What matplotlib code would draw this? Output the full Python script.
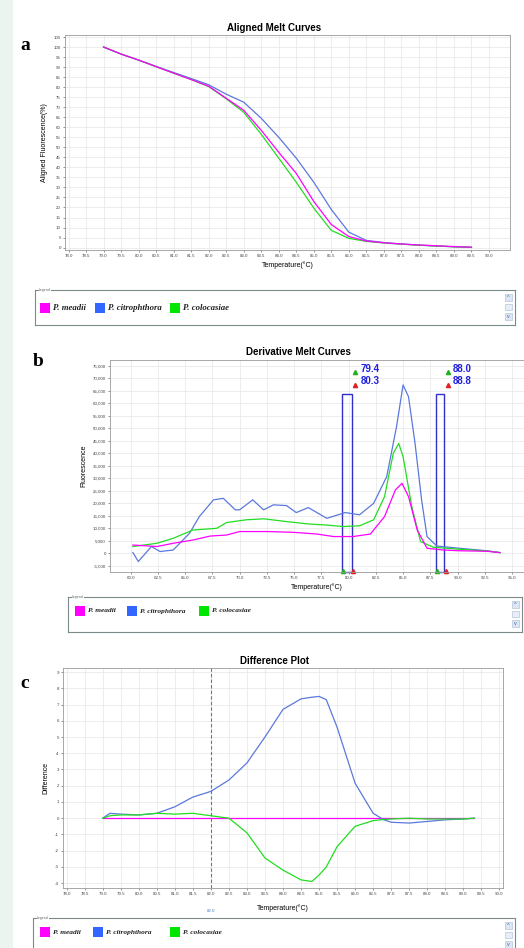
import numpy as np
import matplotlib
matplotlib.use('Agg')
import matplotlib.pyplot as plt
from matplotlib.patches import Rectangle

# ---- panel a: aligned melt curves (%)
temp_a = [79.0, 79.5, 80.0, 80.5, 81.0, 81.5, 82.0, 82.5, 83.0, 83.25, 83.5, 84.0, 84.5,
          85.0, 85.5, 86.0, 86.5, 87.0, 87.5, 88.0, 88.5, 89.0, 89.5]
meadii_a = [100, 96.5, 93.5, 90.2, 87.0, 83.8, 80.5, 74.5, 68.5, 63.5, 58.5, 47.5, 37.0,
            23.0, 11.5, 5.5, 3.3, 2.4, 1.8, 1.3, 0.9, 0.5, 0.2]
citro_a = [100, 96.5, 93.5, 90.4, 87.3, 84.3, 81.2, 76.5, 72.5, 68.5, 64.5, 55.0, 44.6,
           32.6, 19.0, 7.7, 3.6, 2.5, 1.8, 1.2, 0.8, 0.4, 0.1]
coloc_a = [100, 96.5, 93.5, 90.2, 87.0, 83.8, 80.3, 74.2, 67.5, 62.0, 56.5, 44.6, 32.6,
           19.7, 8.6, 4.6, 3.1, 2.3, 1.7, 1.2, 0.8, 0.4, 0.1]
ticks_a_x = np.arange(78.0, 90.01, 0.5)
ticks_a_y = np.arange(0, 106, 5)

# ---- panel b: derivative melt curves
temp_b_citro = [60.2, 60.7, 61.9, 62.7, 63.9, 65.4, 66.3, 67.6, 68.5, 69.6, 70.0, 71.2,
                72.2, 73.1, 74.3, 75.2, 76.3, 78.0, 79.7, 81.0, 82.3, 83.5, 84.4,
                85.0, 85.5, 86.1, 86.7, 87.2, 88.1, 90.2, 92.7, 93.9]
citro_b = [300, -3300, 2700, 700, 1300, 8000, 14700, 21400, 22000, 17400, 17400, 21400,
           17400, 19400, 19100, 16300, 18300, 14000, 16300, 15400, 20000, 30700, 50700,
           67400, 62700, 44000, 21400, 6700, 2900, 2000, 1000, 270]
temp_b_coloc = [60.2, 62.4, 63.9, 65.7, 67.9, 68.8, 70.6, 72.2, 74.3, 76.4, 78.0, 79.5,
                81.0, 82.3, 83.3, 84.1, 84.6, 85.0, 85.8, 86.6, 87.8, 90.2, 92.7, 93.9]
coloc_b = [2700, 4000, 6000, 9300, 10000, 12300, 13400, 13800, 12700, 11700, 11300, 10700,
           11000, 13400, 22700, 40000, 44000, 38700, 18700, 4700, 2400, 1600, 900, 270]
temp_b_meadii = [60.2, 62.4, 63.9, 65.7, 67.3, 68.8, 70.0, 72.5, 74.9, 77.1, 78.6, 80.4,
                 82.0, 83.3, 84.3, 84.9, 85.5, 86.3, 87.2, 88.7, 90.2, 92.7, 93.9]
meadii_b = [3300, 2700, 4000, 5300, 6900, 7300, 8700, 8700, 8400, 7700, 6700, 6700,
            7700, 14700, 25400, 28000, 22700, 9300, 2000, 1300, 1000, 800, 270]
peak_left = [79.4, 88.0]
peak_right = [80.3, 88.8]
ticks_b_x = np.arange(60.0, 95.01, 2.5)
ticks_b_y = np.arange(-5000, 75001, 5000)

# ---- panel c: difference plot
temp_c = [79.0, 79.2, 79.5, 80.0, 80.5, 81.0, 81.5, 82.0, 82.5, 83.0, 83.5, 84.0,
          84.5, 84.8, 85.0, 85.2, 85.5, 86.0, 86.5, 86.8, 87.0, 87.5, 88.0, 88.5,
          89.0, 89.3]
citro_c = [0, 0.3, 0.25, 0.2, 0.3, 0.7, 1.3, 1.65, 2.35, 3.4, 5.0, 6.7,
           7.35, 7.45, 7.5, 7.3, 5.6, 2.15, 0.3, -0.1, -0.25, -0.3, -0.2, -0.1,
           -0.05, 0]
coloc_c = [0, 0.15, 0.2, 0.2, 0.3, 0.25, 0.3, 0.15, 0.0, -0.9, -2.45, -3.2,
           -3.8, -3.9, -3.5, -3.0, -1.75, -0.5, -0.15, -0.08, -0.05, 0, -0.05, -0.05,
           -0.05, 0]
meadii_c = [0] * len(temp_c)
cursor_c = 82.0
ticks_c_x = np.arange(78.0, 90.01, 0.5)
ticks_c_y = np.arange(-4, 10, 1)

species = ['P. meadii', 'P. citrophthora', 'P. colocasiae']
swatch = ['#ff00ff', '#3366ff', '#00e600']
line_col = ['#ff00ff', '#5b78dd', '#22dd22']

W, H = 524, 948
fig = plt.figure(figsize=(W / 100, H / 100), dpi=100)
fig.patch.set_facecolor('white')
plt.rcParams['font.family'] = ['Liberation Sans', 'DejaVu Sans']

# faint page tint on the left margin
fig.add_artist(Rectangle((0, 0), 13 / W, 1, transform=fig.transFigure,
                         facecolor='#ebf4ee', edgecolor='none', zorder=0))


def px_axes(l, t, r, b):
    return fig.add_axes([l / W, 1 - b / H, (r - l) / W, (b - t) / H])


def style(ax, xt, yt, xfmt, yfmt):
    ax.set_xticks(xt)
    ax.set_yticks(yt)
    ax.set_xticklabels([xfmt(v) for v in xt])
    ax.set_yticklabels([yfmt(v) for v in yt])
    ax.tick_params(labelsize=3.2, length=1.5, width=0.4, colors='#444444', pad=1.5)
    ax.grid(True, color='#e6e6e6', linewidth=0.5)
    ax.set_axisbelow(True)
    for sp in ax.spines.values():
        sp.set_color('#9a9a9a')
        sp.set_linewidth(0.6)


def legend_box(l, t, r, b, offsets, fs, row):
    lax = px_axes(l, t, r, b)
    lax.set_xlim(0, r - l)
    lax.set_ylim(b - t, 0)
    lax.set_xticks([])
    lax.set_yticks([])
    for sp in lax.spines.values():
        sp.set_color('#7a8a8a')
        sp.set_linewidth(0.8)
    lax.text(4, 0, 'Legend', fontsize=2.5, color='#666666', va='center',
             bbox=dict(facecolor='white', edgecolor='none', pad=0.3))
    for name, c, x in zip(species, swatch, offsets):
        lax.add_patch(Rectangle((x, row - 5), 10, 10, facecolor=c, edgecolor='none'))
        lax.text(x + 13, row, name, fontsize=fs, style='italic', weight='bold',
                 family=['Liberation Serif'], va='center', color='#222222')
    # scroll bar
    sx = r - l - 10
    lax.add_patch(Rectangle((sx, 4), 7, 7, facecolor='#dde6f4', edgecolor='#a8b8d0', lw=0.4))
    lax.text(sx + 3.5, 7.5, '^', fontsize=4, ha='center', va='center', color='#4060a0')
    lax.add_patch(Rectangle((sx, 14), 7, 6, facecolor='#e8eef8', edgecolor='#a8b8d0', lw=0.4))
    lax.add_patch(Rectangle((sx, 23), 7, 7, facecolor='#dde6f4', edgecolor='#a8b8d0', lw=0.4))
    lax.text(sx + 3.5, 26.5, 'v', fontsize=4, ha='center', va='center', color='#4060a0')
    return lax


# ---------------- a
ax = px_axes(65, 35, 510, 250)
ax.plot(temp_a, citro_a, color=line_col[1], lw=0.9)
ax.plot(temp_a, coloc_a, color=line_col[2], lw=0.9)
ax.plot(temp_a, meadii_a, color=line_col[0], lw=0.9)
ax.set_xlim(77.9, 90.6)
ax.set_ylim(-1.2, 106)
style(ax, ticks_a_x, ticks_a_y, lambda v: f'{v:.1f}', lambda v: f'{v:.0f}')
ax.set_xlabel('Temperature(°C)', fontsize=5, labelpad=2)
ax.set_ylabel('Aligned Fluorescence(%)', fontsize=5, labelpad=4)
fig.text(274 / W, 1 - 28 / H, 'Aligned Melt Curves', fontsize=7, weight='bold',
         ha='center', va='center')
fig.text(25 / W, 1 - 45 / H, 'a', fontsize=14, weight='bold', family=['Liberation Serif'],
         ha='center', va='center')
legend_box(35, 290, 515, 325, [5, 60, 135], 6.3, 18)

# ---------------- b
ax = px_axes(110, 360, 524, 572)
ax.plot(temp_b_citro, citro_b, color=line_col[1], lw=0.9)
ax.plot(temp_b_coloc, coloc_b, color=line_col[2], lw=0.9)
ax.plot(temp_b_meadii, meadii_b, color=line_col[0], lw=0.9)
ax.set_xlim(58.1, 96.1)
ax.set_ylim(-7500, 77400)
style(ax, ticks_b_x, ticks_b_y, lambda v: f'{v:.1f}', lambda v: f'{v:,.0f}')
ax.set_xlabel('Temperature(°C)', fontsize=5, labelpad=2)
ax.set_ylabel('Fluorescence', fontsize=5, labelpad=4)
for lo, hi in zip(peak_left, peak_right):
    ax.add_patch(Rectangle((lo, -7500), hi - lo, 63700 + 7500, facecolor='none',
                           edgecolor='#3030c8', lw=1.0, clip_on=False))
    ax.plot([hi + 0.3], [72500], marker='^', ms=3, color='#20b020')
    ax.plot([hi + 0.3], [67500], marker='^', ms=3, color='#e02020')
    ax.text(hi + 0.8, 73600, f'{lo:.1f}', fontsize=7, weight='bold', color='#2020e0',
            va='center')
    ax.text(hi + 0.8, 69000, f'{hi:.1f}', fontsize=7, weight='bold', color='#2020e0',
            va='center')
    ax.plot([lo + 0.1], [-7000], marker='^', ms=3, color='#20b020', clip_on=False)
    ax.plot([hi + 0.1], [-7000], marker='^', ms=3, color='#e02020', clip_on=False)
fig.text(298 / W, 1 - 352 / H, 'Derivative Melt Curves', fontsize=7, weight='bold',
         ha='center', va='center')
fig.text(38 / W, 1 - 362 / H, 'b', fontsize=14, weight='bold', family=['Liberation Serif'],
         ha='center', va='center')
legend_box(68, 597, 522, 632, [7, 59, 131], 5.3, 14)

# ---------------- c
ax = px_axes(63, 668, 503, 888)
ax.plot(temp_c, meadii_c, color=line_col[0], lw=0.9)
ax.plot(temp_c, citro_c, color=line_col[1], lw=0.9)
ax.plot(temp_c, coloc_c, color=line_col[2], lw=0.9)
ax.axvline(cursor_c, color='#4a7cc0', lw=0.8, ls=(0, (3, 2)))
ax.set_xlim(77.9, 90.1)
ax.set_ylim(-4.3, 9.25)
style(ax, ticks_c_x, ticks_c_y, lambda v: f'{v:.1f}', lambda v: f'{v:.0f}')
ax.text(cursor_c, -5.7, f'{cursor_c:.1f}', fontsize=3.2, color='#4a7cc0', ha='center',
        va='center', clip_on=False)
ax.set_xlabel('Temperature(°C)', fontsize=5, labelpad=6)
ax.set_ylabel('Difference', fontsize=5, labelpad=4)
fig.text(275 / W, 1 - 661 / H, 'Difference Plot', fontsize=7, weight='bold',
         ha='center', va='center')
fig.text(25 / W, 1 - 683 / H, 'c', fontsize=14, weight='bold', family=['Liberation Serif'],
         ha='center', va='center')
legend_box(33, 918, 515, 960, [7, 60, 137], 5.3, 14)

plt.savefig('out.png', dpi=100)
plt.close()
